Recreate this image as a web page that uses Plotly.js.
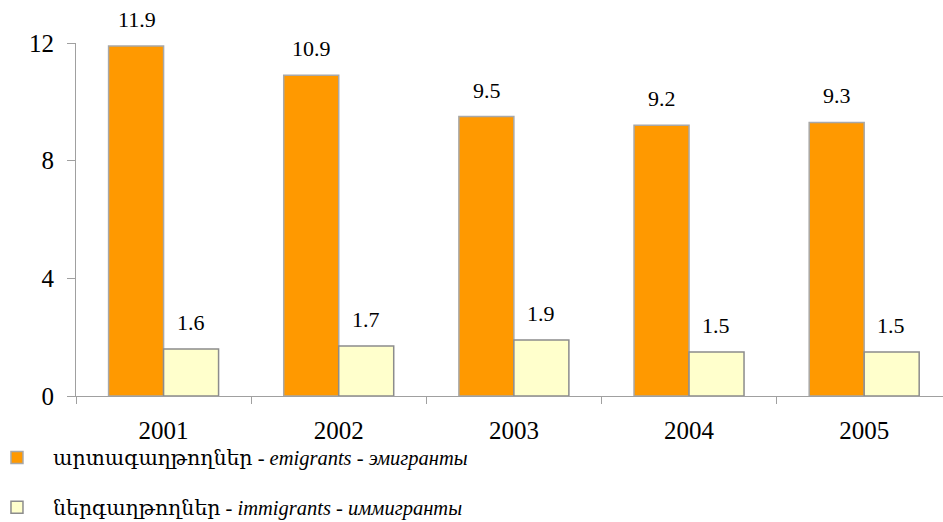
<!DOCTYPE html>
<html>
<head>
<meta charset="utf-8">
<script src="https://cdn.plot.ly/plotly-3.0.1.min.js"></script>
<style>html,body{margin:0;padding:0;background:#fff;}#chart{width:943px;height:522px;}</style>
</head>
<body>
<div id="chart"></div>
<script>
const years = ['2001', '2002', '2003', '2004', '2005'];
const emigrants = [11.9, 10.9, 9.5, 9.2, 9.3];
const immigrants = [1.6, 1.7, 1.9, 1.5, 1.5];
const yTicks = [0, 4, 8, 12];
const nameEmigrants = 'արտագաղթողներ - <i>emigrants</i> - <i>эмигранты</i>';
const nameImmigrants = 'ներգաղթողներ - <i>immigrants</i> - <i>иммигранты</i>';

const FONT = 'Liberation Serif, DejaVu Serif, serif';

const traces = [
  {type: 'bar', x: years, y: emigrants, name: nameEmigrants, legendgroup: 'a',
   marker: {color: '#FF9900', line: {color: '#a8a8a8', width: 1.5}}, hoverinfo: 'none'},
  {type: 'bar', x: years, y: immigrants, name: nameImmigrants, legendgroup: 'b',
   marker: {color: '#FFFFCC', line: {color: '#8c8c8c', width: 1.5}}, hoverinfo: 'none'}
];

const annotations = [];
for (let i = 0; i < years.length; i++) {
  annotations.push({x: i, y: emigrants[i], xref: 'x', yref: 'y', text: String(emigrants[i].toFixed(1)),
    showarrow: false, yanchor: 'bottom', xanchor: 'center', yshift: 12, xshift: -27,
    font: {family: FONT, size: 22, color: '#000000'}});
  annotations.push({x: i, y: immigrants[i], xref: 'x', yref: 'y', text: String(immigrants[i].toFixed(1)),
    showarrow: false, yanchor: 'bottom', xanchor: 'center', yshift: 12, xshift: 27,
    font: {family: FONT, size: 22, color: '#000000'}});
}

const layout = {
  width: 943, height: 522,
  margin: {l: 76, r: 0, t: 43, b: 126, autoexpand: false},
  paper_bgcolor: '#fff', plot_bgcolor: '#fff',
  barmode: 'group', bargap: 0.372, bargroupgap: 0,
  font: {family: FONT, size: 22, color: '#000'},
  xaxis: {type: 'category', range: [-0.5, 4.45], showgrid: false, showline: true, linecolor: '#a0a0a0', linewidth: 1,
    ticks: 'outside', tickson: 'boundaries', ticklen: 7, tickcolor: '#a0a0a0', ticklabelstandoff: 12,
    tickfont: {family: FONT, size: 25, color: '#000'}, zeroline: false, fixedrange: true, automargin: false},
  yaxis: {range: [0, 12], tickvals: yTicks, showgrid: false, showline: true, linecolor: '#a0a0a0', linewidth: 1,
    ticks: 'outside', ticklen: 8, tickcolor: '#a0a0a0', zeroline: false, ticklabelstandoff: 8,
    tickfont: {family: FONT, size: 25, color: '#000'}, fixedrange: true, automargin: false},
  showlegend: true,
  legend: {x: -0.1096, xanchor: 'left', y: -0.118, yanchor: 'top', orientation: 'v', traceorder: 'grouped',
    tracegroupgap: 20, itemwidth: 62, font: {family: FONT, size: 20.5, color: '#000'}, bgcolor: 'rgba(0,0,0,0)'},
  annotations: annotations
};

Plotly.newPlot('chart', traces, layout, {displayModeBar: false, staticPlot: true});
</script>
</body>
</html>
